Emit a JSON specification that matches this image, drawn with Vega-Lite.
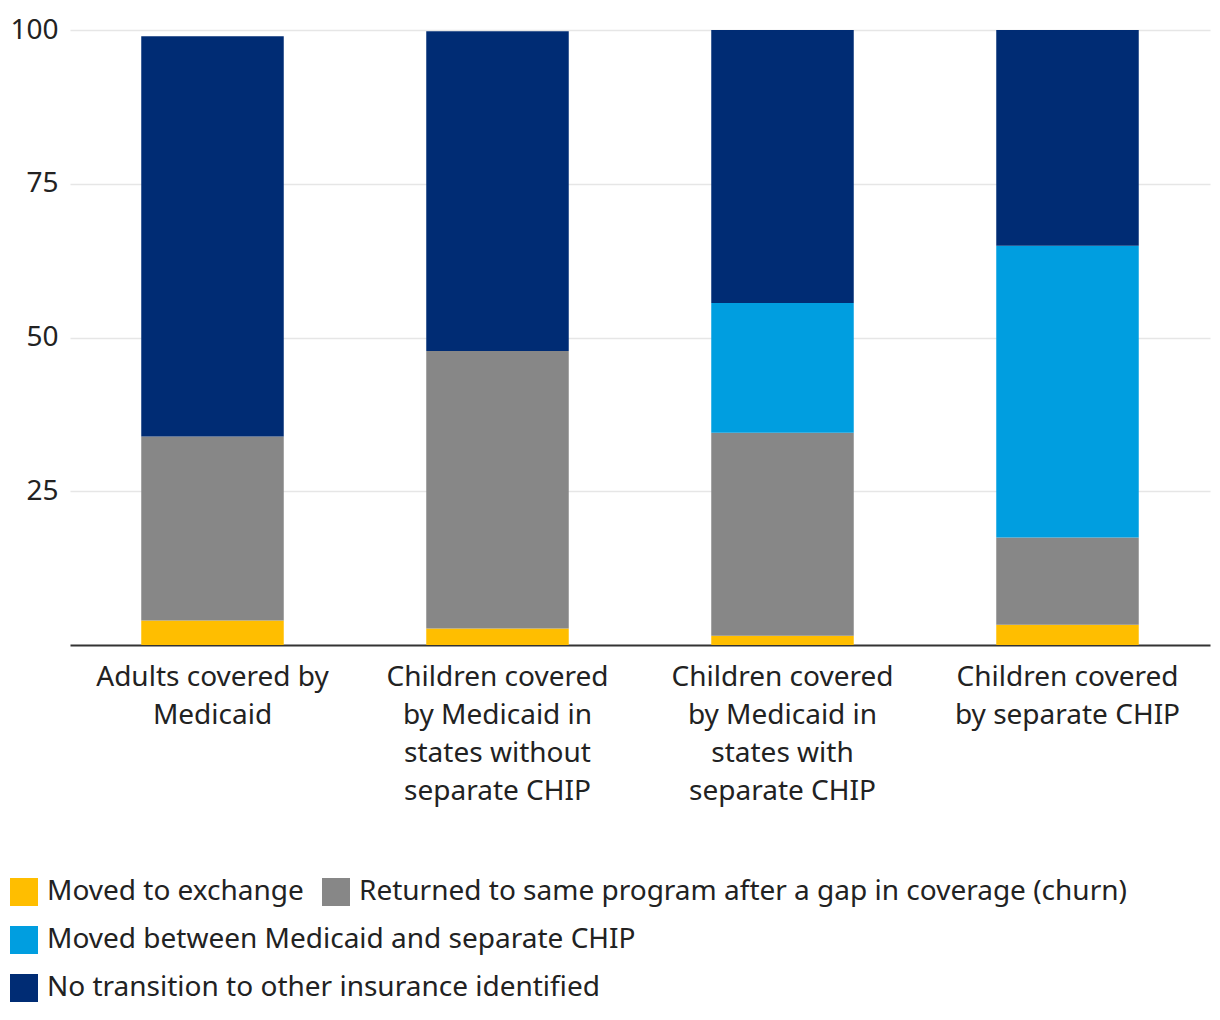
{
  "$schema": "https://vega.github.io/schema/vega-lite/v6.json",
  "width": 1140,
  "height": 615,
  "autosize": {"type": "none"},
  "padding": {"left": 70, "top": 30, "right": 10, "bottom": 375},
  "background": "#ffffff",
  "config": {
    "font": "Noto Sans",
    "view": {"stroke": null},
    "axis": {"labelFont": "Noto Sans", "labelFontSize": 28, "labelColor": "#222222", "title": null},
    "legend": {"labelFont": "Noto Sans", "labelFontSize": 28, "labelColor": "#222222", "padding": 0}
  },
  "data": {
    "values": [
      {"group": "Adults covered by Medicaid", "category": "Moved to exchange", "k": 1, "pct": 4.0},
      {"group": "Adults covered by Medicaid", "category": "Returned to same program after a gap in coverage (churn)", "k": 2, "pct": 29.9},
      {"group": "Adults covered by Medicaid", "category": "No transition to other insurance identified", "k": 4, "pct": 65.1},
      {"group": "Children covered by Medicaid in states without separate CHIP", "category": "Moved to exchange", "k": 1, "pct": 2.7},
      {"group": "Children covered by Medicaid in states without separate CHIP", "category": "Returned to same program after a gap in coverage (churn)", "k": 2, "pct": 45.1},
      {"group": "Children covered by Medicaid in states without separate CHIP", "category": "No transition to other insurance identified", "k": 4, "pct": 52.0},
      {"group": "Children covered by Medicaid in states with separate CHIP", "category": "Moved to exchange", "k": 1, "pct": 1.5},
      {"group": "Children covered by Medicaid in states with separate CHIP", "category": "Returned to same program after a gap in coverage (churn)", "k": 2, "pct": 33.0},
      {"group": "Children covered by Medicaid in states with separate CHIP", "category": "Moved between Medicaid and separate CHIP", "k": 3, "pct": 21.1},
      {"group": "Children covered by Medicaid in states with separate CHIP", "category": "No transition to other insurance identified", "k": 4, "pct": 44.4},
      {"group": "Children covered by separate CHIP", "category": "Moved to exchange", "k": 1, "pct": 3.3},
      {"group": "Children covered by separate CHIP", "category": "Returned to same program after a gap in coverage (churn)", "k": 2, "pct": 14.2},
      {"group": "Children covered by separate CHIP", "category": "Moved between Medicaid and separate CHIP", "k": 3, "pct": 47.4},
      {"group": "Children covered by separate CHIP", "category": "No transition to other insurance identified", "k": 4, "pct": 35.1}
    ]
  },
  "encoding": {
    "x": {
      "field": "group",
      "type": "nominal",
      "sort": null,
      "scale": {"paddingInner": 0.5, "paddingOuter": 0.25},
      "axis": {
        "labelAngle": 0,
        "labelLimit": 0,
        "labelLineHeight": 38,
        "labelPadding": 18,
        "ticks": false,
        "domainColor": "#333333",
        "domainWidth": 2,
        "labelExpr": "datum.value == 'Adults covered by Medicaid' ? ['Adults covered by', 'Medicaid'] : datum.value == 'Children covered by Medicaid in states without separate CHIP' ? ['Children covered', 'by Medicaid in', 'states without', 'separate CHIP'] : datum.value == 'Children covered by Medicaid in states with separate CHIP' ? ['Children covered', 'by Medicaid in', 'states with', 'separate CHIP'] : ['Children covered', 'by separate CHIP']"
      }
    },
    "y": {
      "field": "pct",
      "type": "quantitative",
      "aggregate": "sum",
      "stack": "zero",
      "scale": {"domain": [0, 100], "nice": false},
      "axis": {
        "values": [25, 50, 75, 100],
        "domain": false,
        "ticks": false,
        "labelPadding": 12,
        "gridColor": "#e6e6e6",
        "gridWidth": 1.5
      }
    }
  },
  "layer": [
    {
      "mark": {"type": "bar"},
      "encoding": {
        "order": {"field": "k", "type": "quantitative", "aggregate": "min"},
        "color": {
          "field": "category",
          "type": "nominal",
          "scale": {
            "domain": ["Moved to exchange", "Returned to same program after a gap in coverage (churn)", "Moved between Medicaid and separate CHIP", "No transition to other insurance identified"],
            "range": ["#FFBE00", "#878787", "#009EE0", "#002C74"]
          },
          "legend": {
            "title": null,
            "orient": "none",
            "legendX": -60,
            "legendY": 848,
            "direction": "horizontal",
            "values": ["Moved to exchange", "Returned to same program after a gap in coverage (churn)"],
            "symbolType": "square",
            "symbolSize": 784,
            "symbolStrokeWidth": 0,
            "symbolOpacity": 1,
            "labelOffset": 9,
            "columnPadding": 18,
            "labelLimit": 0
          }
        }
      }
    },
    {
      "transform": [{"filter": "datum.k >= 3"}],
      "mark": {"type": "bar", "opacity": 0},
      "encoding": {
        "color": {
          "field": "category",
          "type": "nominal",
          "scale": {
            "domain": ["Moved between Medicaid and separate CHIP", "No transition to other insurance identified"],
            "range": ["#009EE0", "#002C74"]
          },
          "legend": {
            "title": null,
            "orient": "none",
            "legendX": -60,
            "legendY": 896,
            "direction": "vertical",
            "symbolType": "square",
            "symbolSize": 784,
            "symbolStrokeWidth": 0,
            "symbolOpacity": 1,
            "labelOffset": 9,
            "rowPadding": 20,
            "labelLimit": 0
          }
        }
      }
    }
  ],
  "resolve": {"scale": {"color": "independent"}, "legend": {"color": "independent"}}
}
